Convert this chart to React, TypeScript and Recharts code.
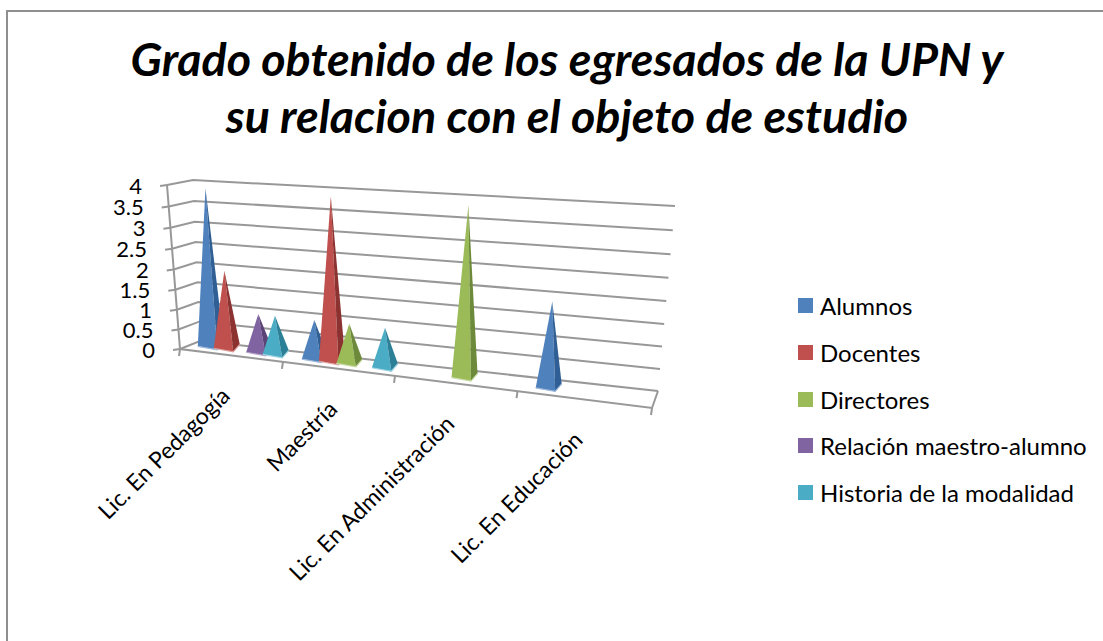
import React from 'react';
import { BarChart, Bar, XAxis, YAxis, CartesianGrid, Legend } from 'recharts';

const categories = ['Lic. En Pedagogía', 'Maestría', 'Lic. En Administración', 'Lic. En Educación'];
const alumnos = [4, 1, null, 2];
const docentes = [2, 4, null, null];
const directores = [null, 1, 4, null];
const relacion = [1, null, null, null];
const historia = [1, 1, null, null];
const yTicks = [0, 0.5, 1, 1.5, 2, 2.5, 3, 3.5, 4];

const data = categories.map((name, i) => ({
  name,
  alumnos: alumnos[i],
  docentes: docentes[i],
  directores: directores[i],
  relacion: relacion[i],
  historia: historia[i],
}));

const W = 1103;
const H = 641;
const FONT = 'Lato, "Open Sans", sans-serif';
// invisible flat plot area, projected onto the tilted 3D planes below
const PL = 180, PT = 185, PW = 480, PH = 165;

type Pt = [number, number];
type Quad = [Pt, Pt, Pt, Pt]; // TL, TR, BR, BL

function homography(q: Quad) {
  const [[x0, y0], [x1, y1], [x2, y2], [x3, y3]] = q;
  const dx1 = x1 - x2, dx2 = x3 - x2, sx = x0 - x1 + x2 - x3;
  const dy1 = y1 - y2, dy2 = y3 - y2, sy = y0 - y1 + y2 - y3;
  const den = dx1 * dy2 - dx2 * dy1;
  const g = (sx * dy2 - dx2 * sy) / den;
  const h = (dx1 * sy - sx * dy1) / den;
  const a = x1 - x0 + g * x1, b = x3 - x0 + h * x3, c = x0;
  const d = y1 - y0 + g * y1, e = y3 - y0 + h * y3, f = y0;
  return (u: number, v: number): Pt => {
    const w = g * u + h * v + 1;
    return [(a * u + b * v + c) / w, (d * u + e * v + f) / w];
  };
}

const backWall = homography([[193, 180], [675, 206], [658, 391], [200, 341]]);
const barPlane = homography([[186, 187], [667, 218], [655, 402], [192, 345]]);
const frontEdge = homography([[167, 185], [671, 214], [652, 408], [180, 349]]);

const toU = (x: number) => (x - PL) / PW;
const toV = (y: number) => (y - PT) / PH;

const GRID = '#989898';
const GW = 2;

const GridLine = (props: any) => {
  const v = toV(props.y1);
  const a = frontEdge(0, v);
  const b = backWall(0, v);
  const c = backWall(1, v);
  return (
    <polyline
      points={[a, b, c].map((p) => p.join(',')).join(' ')}
      fill="none"
      stroke={GRID}
      strokeWidth={GW}
    />
  );
};

const YTick = (props: any) => {
  const v = toV(props.y);
  const [x, y] = frontEdge(0, v);
  return (
    <g>
      <line x1={x - 7} y1={y + 1} x2={x} y2={y} stroke={GRID} strokeWidth={GW} />
      <text x={x - 25} y={y + 8.5} textAnchor="end" fontFamily={FONT} fontSize={22} fill="#000">
        {props.payload.value}
      </text>
    </g>
  );
};

const XTick = (props: any) => {
  const { index, payload } = props;
  const n = categories.length;
  const u = (index + 0.5) / n;
  const [lx, ly] = frontEdge((index + 1) / n, 1);
  const [cx, cy] = frontEdge(u, 1);
  const first = frontEdge(0, 1);
  return (
    <g>
      {index === 0 && (
        <line x1={first[0]} y1={first[1]} x2={first[0] - 1} y2={first[1] + 7} stroke={GRID} strokeWidth={GW} />
      )}
      <line x1={lx} y1={ly} x2={lx - 1} y2={ly + 7} stroke={GRID} strokeWidth={GW} />
      <text
        x={cx + 1}
        y={cy + 42}
        textAnchor="end"
        fontFamily={FONT}
        fontSize={23}
        fill="#000"
        transform={`rotate(-45 ${cx + 1} ${cy + 42})`}
      >
        {payload.value}
      </text>
    </g>
  );
};

const Frame = () => {
  const a = frontEdge(0, 0);
  const b = frontEdge(0, 1);
  const c = frontEdge(1, 1);
  const d = backWall(1, 1);
  return (
    <polyline
      points={[a, b, c, d].map((p) => p.join(',')).join(' ')}
      fill="none"
      stroke={GRID}
      strokeWidth={GW}
    />
  );
};

const pyramid = (light: string, main: string, dark: string) => (props: any) => {
  const { x, y, width, height } = props;
  if (!height || height <= 0) return null;
  const cu = toU(x + width / 2);
  const tip = barPlane(cu, toV(y));
  const base = barPlane(cu, toV(y + height));
  const r = 13;
  const bl: Pt = [base[0] - r, base[1] - 1];
  const fr: Pt = [base[0] + r * 0.5, base[1] + 2.5];
  const br: Pt = [base[0] + r, base[1] - 5];
  const pts = (arr: Pt[]) => arr.map((p) => p.join(',')).join(' ');
  return (
    <g>
      <polygon points={pts([tip, bl, fr])} fill={main} />
      <polygon points={pts([tip, fr, br])} fill={dark} />
      <polyline points={pts([bl, fr, br])} fill="none" stroke={light} strokeWidth={1.2} />
    </g>
  );
};

const series = [
  { key: 'alumnos', name: 'Alumnos', fill: '#4F81BD', light: '#9db8d9', dark: '#2f5f94' },
  { key: 'docentes', name: 'Docentes', fill: '#C0504D', light: '#dfa3a1', dark: '#8c3331' },
  { key: 'directores', name: 'Directores', fill: '#9BBB59', light: '#cbdca8', dark: '#6c8a39' },
  { key: 'relacion', name: 'Relación maestro-alumno', fill: '#8064A2', light: '#b6a4cc', dark: '#5b4378' },
  { key: 'historia', name: 'Historia de la modalidad', fill: '#4BACC6', light: '#9bd3e2', dark: '#2b7f96' },
];

const LegendList = (props: any) => (
  <div>
    {(props.payload || []).map((e: any) => (
      <div key={e.value} style={{ height: 46.8, display: 'flex', alignItems: 'flex-start' }}>
        <span style={{ width: 15, height: 15, background: e.color, marginTop: 5, marginRight: 7, flex: 'none' }} />
        <span style={{ fontFamily: FONT, fontSize: 24, lineHeight: '25px', color: '#000', whiteSpace: 'nowrap' }}>
          {e.value}
        </span>
      </div>
    ))}
  </div>
);

const title1 = 'Grado obtenido de los egresados de la UPN y';
const title2 = 'su relacion con el objeto de estudio';

export default function App() {
  return (
    <div style={{ position: 'absolute', left: 0, top: 0, width: W, height: H, background: '#fff', overflow: 'hidden' }}>
      <div
        style={{
          position: 'absolute', left: 6, top: 10, width: 1200, height: 800,
          border: '2.5px solid #8f8f8f', boxSizing: 'border-box',
        }}
      />
      <div
        style={{
          position: 'absolute', left: 0, top: 30, width: 1134, textAlign: 'center',
          fontFamily: FONT, fontWeight: 700, fontStyle: 'italic', fontSize: 46.6, lineHeight: '57px', color: '#000',
        }}
      >
        <div>{title1}</div>
        <div>{title2}</div>
      </div>
      <div style={{ position: 'absolute', left: 0, top: 0 }}>
        <BarChart
          width={W}
          height={H}
          data={data}
          margin={{ left: 0, top: PT, right: W - PL - PW, bottom: 0 }}
          barCategoryGap="11%"
          barGap={0}
        >
          <CartesianGrid horizontal={(p: any) => <GridLine key={p.key ?? p.y1} {...p} />} vertical={false} />
          <XAxis dataKey="name" height={H - PT - PH} axisLine={false} tickLine={false} tick={XTick} interval={0} />
          <YAxis width={PL} domain={[0, 4]} ticks={yTicks} axisLine={false} tickLine={false} tick={YTick} interval={0} />
          {series.map((s) => (
            <Bar
              key={s.key}
              dataKey={s.key}
              name={s.name}
              fill={s.fill}
              isAnimationActive={false}
              shape={pyramid(s.light, s.fill, s.dark)}
            />
          ))}
          <Legend
            layout="vertical"
            align="center"
            verticalAlign="middle"
            itemSorter={null}
            content={LegendList}
            wrapperStyle={{ left: 798, top: 293, width: 300 }}
          />
          <Frame />
        </BarChart>
      </div>
    </div>
  );
}
